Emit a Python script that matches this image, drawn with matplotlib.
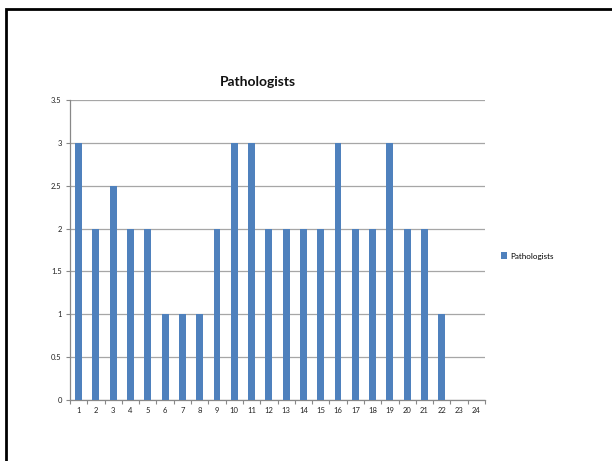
import matplotlib
matplotlib.use("Agg")
import matplotlib.pyplot as plt
from matplotlib.patches import Rectangle
import numpy as np

categories = [str(i) for i in range(1, 25)]
values = [3, 2, 2.5, 2, 2, 1, 1, 1, 2, 3, 3, 2, 2, 2, 2, 3, 2, 2, 3, 2, 2, 1, 0, 0]
yticks = [0, 0.5, 1, 1.5, 2, 2.5, 3, 3.5]
ytick_labels = ["0", "0.5", "1", "1.5", "2", "2.5", "3", "3.5"]
series_name = "Pathologists"
title = "Pathologists"

plt.rcParams['font.family'] = ['Lato', 'DejaVu Sans']

fig = plt.figure(figsize=(6.12, 4.61), dpi=100)
fig.patch.set_facecolor('white')

# outer border
fig.add_artist(Rectangle((5.5 / 612, -0.1), 1.2, (461 - 9.5) / 461 + 0.1,
                         transform=fig.transFigure, fill=False,
                         edgecolor='black', linewidth=2.0))

ax = fig.add_axes([70 / 612, 1 - 400 / 461, 415 / 612, 300 / 461])
x = np.arange(len(categories))
bars = ax.bar(x, values, width=0.4, color='#4f81bd', label=series_name, zorder=3)

ax.set_xlim(-0.5, len(categories) - 0.5)
ax.set_ylim(0, 3.5)
ax.set_yticks(yticks)
ax.set_yticklabels(ytick_labels)
ax.set_xticks(x)
ax.set_xticklabels(categories)
ax.set_xticks(np.arange(-0.5, len(categories), 1), minor=True)
ax.tick_params(axis='x', which='major', length=0, labelsize=5.5, pad=5, colors='#222222')
ax.tick_params(axis='x', which='minor', length=3, color='#888888', width=0.8)
ax.tick_params(axis='y', which='major', length=3, width=0.8, labelsize=5.5, pad=3, colors='#222222')
ax.tick_params(axis='y', which='major', color='#888888')

ax.grid(axis='y', color='#a6a6a6', linewidth=0.9, zorder=0)
for s in ['top', 'right']:
    ax.spines[s].set_visible(False)
for s in ['left', 'bottom']:
    ax.spines[s].set_color('#888888')
    ax.spines[s].set_linewidth(0.9)

fig.text(258 / 612, 1 - 82 / 461, title, ha='center', va='center',
         fontsize=10, fontweight='bold', color='#111111')

leg = fig.legend(handles=[bars], labels=[series_name], loc='center left',
                 bbox_to_anchor=(494 / 612, 1 - 256 / 461), frameon=False,
                 fontsize=5.8, handlelength=0.7, handleheight=0.9, handletextpad=0.4)

fig.savefig('out.png', dpi=100, facecolor='white')
